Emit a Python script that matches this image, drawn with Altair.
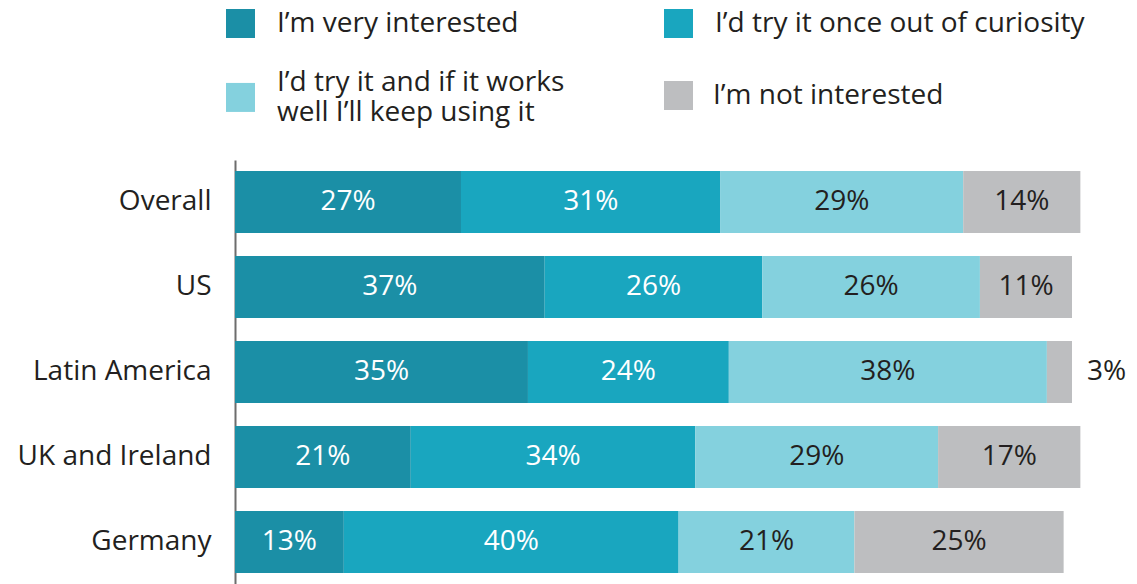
import altair as alt
import pandas as pd

countries = ["Overall", "US", "Latin America", "UK and Ireland", "Germany"]
responses = [
    "I’m very interested",
    "I’d try it once out of curiosity",
    "I’d try it and if it works well I’ll keep using it",
    "I’m not interested",
]
very_interested = [27, 37, 35, 21, 13]
try_once = [31, 26, 24, 34, 40]
keep_using = [29, 26, 38, 29, 21]
not_interested = [14, 11, 3, 17, 25]
colors = ["#1b8fa6", "#19a6bf", "#84d1de", "#bdbec0"]

series = [very_interested, try_once, keep_using, not_interested]
rows = []
for ri, (resp, vals) in enumerate(zip(responses, series)):
    for c, v in zip(countries, vals):
        rows.append({"country": c, "response": resp, "ord": ri, "value": v})
df = pd.DataFrame(rows)

FONT = "Open Sans"
FS = 28
TXT = "#231f20"

# legend key shapes: the two-line entry's square sits between its lines
SQ = "M-1,-1H1V1H-1Z"
SQ_LOW = "M-1,0.03H1V2.03H-1Z"

base = alt.Chart(df).transform_stack(
    stack="value", as_=["x0", "x1"], groupby=["country"],
    sort=[alt.SortField("ord", order="ascending")]
).transform_calculate(mid="(datum.x0 + datum.x1) / 2")

xscale = alt.Scale(domain=[0, 100], nice=False, zero=True)
yenc = alt.Y(
    "country:N", sort=countries, title=None,
    scale=alt.Scale(paddingInner=0.27, paddingOuter=0.13),
    axis=alt.Axis(domainColor="#6d6d6d", domainWidth=2, ticks=False, grid=False,
                  labelFont=FONT, labelFontSize=FS, labelColor=TXT, labelPadding=24,
                  labelLimit=400),
)

label_expr = ("datum.label == '" + responses[2] + "' ? ['I’d try it and if it works', 'well I’ll keep using it'] : datum.label")


def make_legend():
    return alt.Legend(
        orient="none", legendX=-9, legendY=-151, columns=2, direction="horizontal",
        title=None, symbolSize=841, symbolStrokeWidth=0, values=responses[:3],
        symbolOpacity=1, labelFont=FONT, labelFontSize=FS, labelColor=TXT,
        labelOffset=22, columnPadding=99, rowPadding=30, labelLimit=600,
        labelExpr=label_expr, padding=0,
    )


bars = base.mark_bar(cornerRadius=0).encode(
    x=alt.X("x0:Q", scale=xscale, axis=None),
    x2="x1:Q",
    y=yenc,
    color=alt.Color(
        "response:N",
        scale=alt.Scale(domain=responses, range=colors),
        legend=make_legend(),
    ),
    order=alt.Order("ord:Q"),
)

keys = base.mark_point(filled=True, opacity=0).encode(
    x=alt.X("x0:Q", scale=xscale, axis=None),
    y=alt.Y("country:N", sort=countries),
    shape=alt.Shape(
        "response:N",
        scale=alt.Scale(domain=responses, range=[SQ, SQ, SQ_LOW, SQ]),
        legend=make_legend(),
    ),
)

keys_not = base.transform_filter(
    alt.FieldEqualPredicate(field="response", equal=responses[3])
).mark_point(filled=True, opacity=0, shape="square").encode(
    x=alt.X("x0:Q", scale=xscale, axis=None),
    y=alt.Y("country:N", sort=countries),
    fill=alt.Fill(
        "response:N",
        scale=alt.Scale(domain=responses[3:], range=colors[3:]),
        legend=alt.Legend(
            orient="none", legendX=429, legendY=-79, title=None,
            symbolType="square", symbolSize=841, symbolStrokeWidth=0,
            symbolOpacity=1, labelFont=FONT, labelFontSize=FS, labelColor=TXT,
            labelOffset=20, labelLimit=600, padding=0,
        ),
    ),
)

text_in = base.transform_filter("datum.value >= 5").mark_text(
    font=FONT, fontSize=FS, baseline="middle", align="center"
).encode(
    x=alt.X("mid:Q", scale=xscale, axis=None),
    y=alt.Y("country:N", sort=countries),
    text=alt.Text("label:N"),
    color=alt.condition(
        alt.FieldOneOfPredicate(field="response", oneOf=responses[:2]),
        alt.value("white"), alt.value(TXT)),
).transform_calculate(label="datum.value + '%'")

text_out = base.transform_filter("datum.value < 5").mark_text(
    font=FONT, fontSize=FS, baseline="middle", align="left", dx=15, color=TXT
).encode(
    x=alt.X("x1:Q", scale=xscale, axis=None),
    y=alt.Y("country:N", sort=countries),
    text=alt.Text("label:N"),
).transform_calculate(label="datum.value + '%'")

chart = alt.layer(bars, keys, keys_not, text_in, text_out).properties(
    width=837, height=424,
    padding={"left": 227, "top": 152, "right": 57, "bottom": 0},
    autosize=alt.AutoSizeParams(type="none"),
).configure_view(stroke=None)

chart.save("out.html", embed_options={"renderer": "svg", "actions": False})
